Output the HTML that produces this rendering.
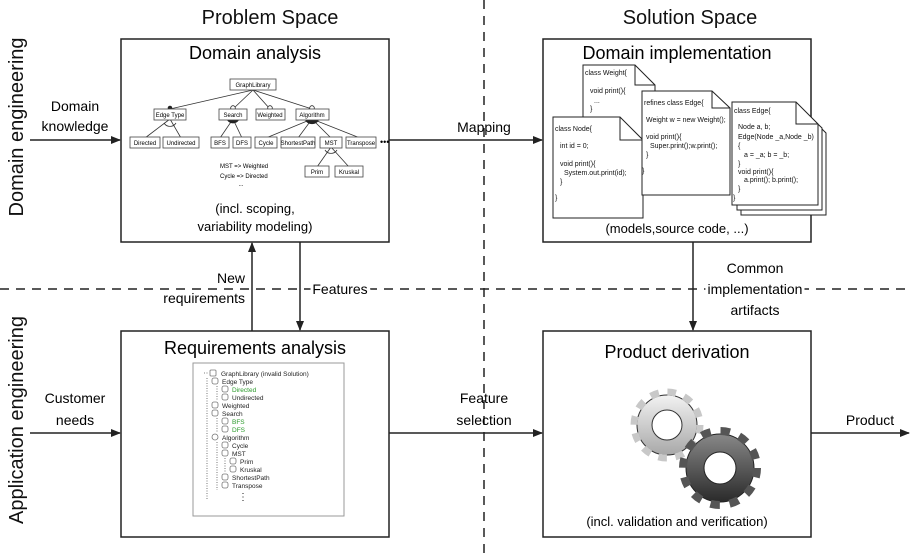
<!DOCTYPE html>
<html><head><meta charset="utf-8"><style>
body{margin:0;background:#fff}
svg{display:block;font-family:"Liberation Sans",sans-serif}
</style></head><body>
<svg width="911" height="559" viewBox="0 0 911 559" xmlns="http://www.w3.org/2000/svg">
<defs>
<marker id="a" markerWidth="10" markerHeight="8" refX="9" refY="4" orient="auto" markerUnits="userSpaceOnUse"><path d="M0,0 L10,4 L0,8 z" fill="#222"/></marker>
<linearGradient id="g1" x1="0" y1="0" x2="0" y2="1"><stop offset="0" stop-color="#f2f2f2"/><stop offset="1" stop-color="#a8a8a8"/></linearGradient>
<linearGradient id="g2" x1="0" y1="0" x2="0" y2="1"><stop offset="0" stop-color="#888"/><stop offset="1" stop-color="#2a2a2a"/></linearGradient>
</defs>
<line x1="484" y1="0" x2="484" y2="559" stroke="#222" stroke-width="1.5" stroke-dasharray="9,7"/>
<line x1="0" y1="289" x2="911" y2="289" stroke="#222" stroke-width="1.5" stroke-dasharray="9,7"/>
<text x="270" y="24" font-size="20" text-anchor="middle" fill="#111">Problem Space</text>
<text x="690" y="24" font-size="20" text-anchor="middle" fill="#111">Solution Space</text>
<text transform="translate(23,127) rotate(-90)" font-size="20" text-anchor="middle" fill="#111">Domain engineering</text>
<text transform="translate(23,420) rotate(-90)" font-size="20" text-anchor="middle" fill="#111">Application engineering</text>
<rect x="121" y="39" width="268" height="203" fill="#fff" stroke="#222" stroke-width="1.5"/>
<rect x="543" y="39" width="268" height="203" fill="#fff" stroke="#222" stroke-width="1.5"/>
<rect x="121" y="331" width="268" height="206" fill="#fff" stroke="#222" stroke-width="1.5"/>
<rect x="543" y="331" width="268" height="206" fill="#fff" stroke="#222" stroke-width="1.5"/>
<text x="255" y="59" font-size="18" text-anchor="middle">Domain analysis</text>
<text x="677" y="59" font-size="18" text-anchor="middle">Domain implementation</text>
<text x="255" y="354" font-size="18" text-anchor="middle">Requirements analysis</text>
<text x="677" y="358" font-size="18" text-anchor="middle">Product derivation</text>
<text x="255" y="213" font-size="13" text-anchor="middle">(incl. scoping,</text>
<text x="255" y="231" font-size="13" text-anchor="middle">variability modeling)</text>
<text x="677" y="233" font-size="13" text-anchor="middle">(models,source code, ...)</text>
<text x="677" y="526" font-size="13" text-anchor="middle">(incl. validation and verification)</text>
<line x1="30" y1="140" x2="120" y2="140" stroke="#222" stroke-width="1.5" marker-end="url(#a)"/>
<text x="75" y="111" font-size="14" text-anchor="middle">Domain</text>
<text x="75" y="131" font-size="14" text-anchor="middle">knowledge</text>
<line x1="389" y1="140" x2="542" y2="140" stroke="#222" stroke-width="1.5" marker-end="url(#a)"/>
<text x="484" y="132" font-size="14" text-anchor="middle">Mapping</text>
<line x1="252" y1="331" x2="252" y2="243" stroke="#222" stroke-width="1.5" marker-end="url(#a)"/>
<text x="245" y="283" font-size="14" text-anchor="end">New</text>
<text x="245" y="303" font-size="14" text-anchor="end">requirements</text>
<line x1="300" y1="242" x2="300" y2="330" stroke="#222" stroke-width="1.5" marker-end="url(#a)"/>
<text x="340" y="294" font-size="14" text-anchor="middle" style="paint-order:stroke" stroke="#fff" stroke-width="6">Features</text>
<line x1="693" y1="242" x2="693" y2="330" stroke="#222" stroke-width="1.5" marker-end="url(#a)"/>
<text x="755" y="273" font-size="14" text-anchor="middle">Common</text>
<text x="755" y="294" font-size="14" text-anchor="middle" style="paint-order:stroke" stroke="#fff" stroke-width="6">implementation</text>
<text x="755" y="315" font-size="14" text-anchor="middle">artifacts</text>
<line x1="30" y1="433" x2="120" y2="433" stroke="#222" stroke-width="1.5" marker-end="url(#a)"/>
<text x="75" y="403" font-size="14" text-anchor="middle">Customer</text>
<text x="75" y="425" font-size="14" text-anchor="middle">needs</text>
<line x1="389" y1="433" x2="542" y2="433" stroke="#222" stroke-width="1.5" marker-end="url(#a)"/>
<text x="484" y="403" font-size="14" text-anchor="middle">Feature</text>
<text x="484" y="425" font-size="14" text-anchor="middle">selection</text>
<line x1="811" y1="433" x2="909" y2="433" stroke="#222" stroke-width="1.5" marker-end="url(#a)"/>
<text x="870" y="425" font-size="14" text-anchor="middle">Product</text>
<g font-size="6" text-anchor="middle" stroke-width="0.8">
<g stroke="#333">
<line x1="253" y1="90" x2="170" y2="109"/><line x1="253" y1="90" x2="233" y2="109"/><line x1="253" y1="90" x2="270" y2="109"/><line x1="253" y1="90" x2="312" y2="109"/>
<line x1="170" y1="119" x2="145" y2="138"/><line x1="170" y1="119" x2="181" y2="138"/>
<line x1="233" y1="119" x2="220" y2="138"/><line x1="233" y1="119" x2="242" y2="138"/>
<line x1="312" y1="119" x2="266" y2="138"/><line x1="312" y1="119" x2="298" y2="138"/><line x1="312" y1="119" x2="331" y2="138"/><line x1="312" y1="119" x2="360" y2="138"/>
<line x1="331" y1="147" x2="317" y2="167"/><line x1="331" y1="147" x2="349" y2="167"/>
</g>
<path d="M227,120 A7,7 0 0 0 239,120 z" fill="#222"/>
<path d="M305,120 A8,8 0 0 0 319,120 z" fill="#222"/>
<path d="M164,123 A7,7 0 0 0 176,123" fill="none" stroke="#333"/>
<path d="M325,150 A7,7 0 0 0 337,150" fill="none" stroke="#333"/>
<circle cx="170" cy="108" r="2.3" fill="#222"/>
<circle cx="233" cy="108" r="2.3" fill="#fff" stroke="#222"/>
<circle cx="270" cy="108" r="2.3" fill="#fff" stroke="#222"/>
<circle cx="312" cy="108" r="2.3" fill="#fff" stroke="#222"/>
<g fill="#fff" stroke="#444">
<rect x="230" y="79" width="46" height="11"/>
<rect x="154" y="109" width="32" height="11"/><rect x="219" y="109" width="28" height="11"/><rect x="256" y="109" width="29" height="11"/><rect x="296" y="109" width="33" height="11"/>
<rect x="130" y="137" width="30" height="11"/><rect x="163" y="137" width="36" height="11"/><rect x="211" y="137" width="18" height="11"/><rect x="233" y="137" width="18" height="11"/><rect x="255" y="137" width="22" height="11"/><rect x="281" y="137" width="34" height="11"/><rect x="320" y="137" width="22" height="11"/><rect x="346" y="137" width="30" height="11"/>
<rect x="305" y="166" width="24" height="11"/><rect x="335" y="166" width="28" height="11"/>
</g>
<text x="253" y="87">GraphLibrary</text>
<text x="170" y="117">Edge Type</text><text x="233" y="117">Search</text><text x="270" y="117">Weighted</text><text x="312" y="117">Algorithm</text>
<text x="145" y="145">Directed</text><text x="181" y="145">Undirected</text><text x="220" y="145">BFS</text><text x="242" y="145">DFS</text><text x="266" y="145">Cycle</text><text x="298" y="145">ShortestPath</text><text x="331" y="145">MST</text><text x="361" y="145">Transpose</text>
<text x="317" y="174">Prim</text><text x="349" y="174">Kruskal</text>
<text x="380" y="145" text-anchor="start" font-size="9">•••</text>
<text x="220" y="168" text-anchor="start">MST   =&gt; Weighted</text>
<text x="220" y="178" text-anchor="start">Cycle  =&gt; Directed</text>
<text x="241" y="186">...</text>
</g>
<g font-size="7" fill="#111" stroke-width="1">
<path d="M583,65 H635 L655,85 V180 H583 Z" fill="#fff" stroke="#222"/><path d="M635,65 V85 H655" fill="none" stroke="#222"/>
<text x="585" y="75">class Weight{</text><text x="590" y="93">void print(){</text><text x="594" y="103">...</text><text x="590" y="111">}</text>
<path d="M553,117 H620 L643,140 V218 H553 Z" fill="#fff" stroke="#222"/><path d="M620,117 V140 H643" fill="none" stroke="#222"/>
<text x="555" y="131">class Node{</text><text x="560" y="148">int id = 0;</text><text x="560" y="166">void print(){</text><text x="564" y="175">System.out.print(id);</text><text x="560" y="184">}</text><text x="555" y="200">}</text>
<path d="M642,91 H712 L730,108 V195 H642 Z" fill="#fff" stroke="#222"/><path d="M712,91 V108 H730" fill="none" stroke="#222"/>
<text x="644" y="105">refines class Edge{</text><text x="646" y="122">Weight w = new Weight();</text><text x="646" y="139">void print(){</text><text x="650" y="148">Super.print();w.print();</text><text x="646" y="157">}</text><text x="642" y="173">}</text>
<path d="M741,112 H805 L826,133 V215 H741 Z" fill="#fff" stroke="#222"/>
<path d="M737,107 H800 L822,128 V210 H737 Z" fill="#fff" stroke="#222"/>
<path d="M732,102 H796 L818,124 V205 H732 Z" fill="#fff" stroke="#222"/><path d="M796,102 V124 H818" fill="none" stroke="#222"/>
<text x="734" y="113">class Edge{</text><text x="738" y="129">Node a, b;</text><text x="738" y="139">Edge(Node _a,Node _b)</text><text x="738" y="148">{</text><text x="744" y="157">a = _a; b = _b;</text><text x="738" y="166">}</text><text x="738" y="174">void print(){</text><text x="744" y="182">a.print(); b.print();</text><text x="738" y="191">}</text><text x="733" y="200">}</text>
</g>
<rect x="193" y="363" width="151" height="153" fill="#fff" stroke="#999" stroke-width="1"/>
<g font-size="6.5" fill="#222">
<g stroke="#555" stroke-dasharray="1,1.5" stroke-width="0.8" fill="none">
<path d="M204,373 H208"/><path d="M207,378 V500"/>
<path d="M217,386 V400"/><path d="M217,418 V432"/><path d="M217,442 V490"/><path d="M225,458 V472"/>
</g>
<g fill="#fff" stroke="#777" stroke-width="0.8">
<rect x="210" y="370" width="6" height="6" rx="1"/><rect x="212" y="378" width="6" height="6" rx="2"/>
<rect x="222" y="386" width="6" height="6" rx="2"/><rect x="222" y="394" width="6" height="6" rx="2"/>
<rect x="212" y="402" width="6" height="6" rx="2"/><rect x="212" y="410" width="6" height="6" rx="2"/>
<rect x="222" y="418" width="6" height="6" rx="2"/><rect x="222" y="426" width="6" height="6" rx="2"/>
<rect x="212" y="434" width="6" height="6" rx="3"/><rect x="222" y="442" width="6" height="6" rx="2"/><rect x="222" y="450" width="6" height="6" rx="2"/>
<rect x="230" y="458" width="6" height="6" rx="2"/><rect x="230" y="466" width="6" height="6" rx="2"/>
<rect x="222" y="474" width="6" height="6" rx="2"/><rect x="222" y="482" width="6" height="6" rx="2"/>
</g>
<text x="221" y="376">GraphLibrary       (invalid    Solution)</text>
<text x="222" y="384">Edge Type</text>
<text x="232" y="392" fill="#2a9a2a">Directed</text><text x="232" y="400">Undirected</text>
<text x="222" y="408">Weighted</text><text x="222" y="416">Search</text>
<text x="232" y="424" fill="#2a9a2a">BFS</text><text x="232" y="432" fill="#2a9a2a">DFS</text>
<text x="222" y="440">Algorithm</text><text x="232" y="448">Cycle</text><text x="232" y="456">MST</text>
<text x="240" y="464">Prim</text><text x="240" y="472">Kruskal</text>
<text x="232" y="480">ShortestPath</text><text x="232" y="488">Transpose</text>
<text x="238" y="500" font-size="10">⋮</text>
</g>
<g transform="translate(667,425)">
<circle r="30" fill="url(#g1)" stroke="#333" stroke-width="1"/>
<circle r="33" fill="none" stroke="#c8c8c8" stroke-width="7" stroke-dasharray="8.6,8.7"/>
<circle r="15" fill="#fff" stroke="#333" stroke-width="1"/>
</g>
<g transform="translate(720,468)">
<circle r="34" fill="url(#g2)" stroke="#222" stroke-width="1"/>
<circle r="37" fill="none" stroke="#555" stroke-width="8" stroke-dasharray="9.5,9.9"/>
<circle r="16" fill="#fff" stroke="#222" stroke-width="1"/>
</g>
</svg>
</body></html>
